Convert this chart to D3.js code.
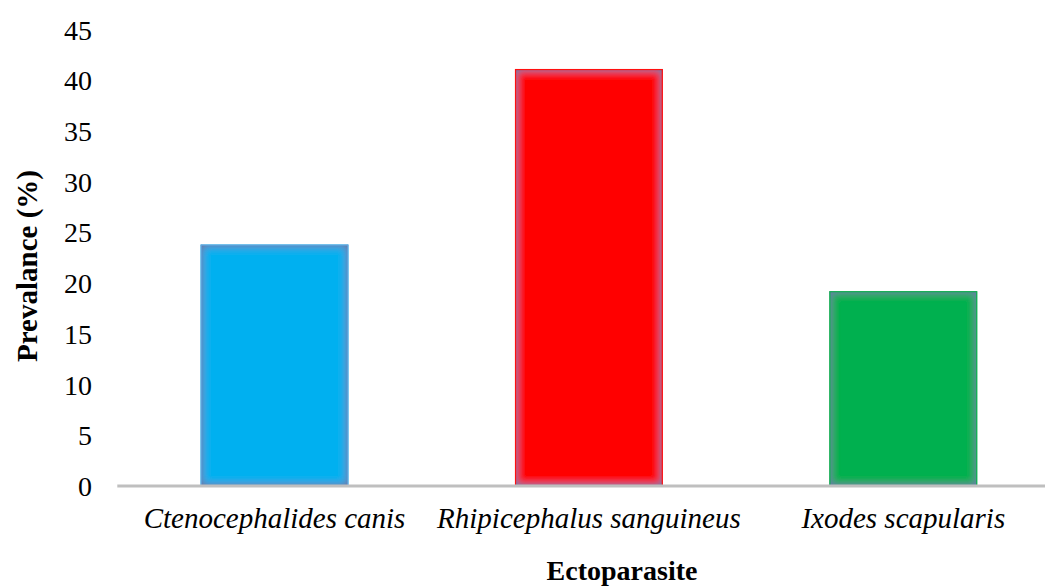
<!DOCTYPE html>
<html>
<head>
<meta charset="utf-8">
<script src="https://cdn.jsdelivr.net/npm/d3@7"></script>
<style>
  html, body { margin: 0; padding: 0; background: #fff; }
  svg { display: block; }
</style>
</head>
<body>
<script>
const categories = ["Ctenocephalides canis", "Rhipicephalus sanguineus", "Ixodes scapularis"];
const values = [23.8, 41.1, 19.2];
const barColors = ["#00b0f0", "#ff0000", "#00b050"];
const borderColors = ["#5fa8e0", "#ff1010", "#10b050"];
const yTicks = [0, 5, 10, 15, 20, 25, 30, 35, 40, 45];
const xTitle = "Ectoparasite";
const yTitle = "Prevalance (%)";

const FONT = "Liberation Serif";
const W = 1045, H = 586;
const svg = d3.select("body").append("svg").attr("width", W).attr("height", H);

const defs = svg.append("defs");
const f = defs.append("filter").attr("id", "innerglow")
  .attr("x", "-5%").attr("y", "-5%").attr("width", "110%").attr("height", "110%");
f.append("feGaussianBlur").attr("in", "SourceAlpha").attr("stdDeviation", 5).attr("result", "blur");
f.append("feComposite").attr("in", "SourceAlpha").attr("in2", "blur")
  .attr("operator", "arithmetic").attr("k1", 0).attr("k2", 1.5).attr("k3", -1.5).attr("k4", 0).attr("result", "edge");
f.append("feFlood").attr("flood-color", "#6878a8").attr("flood-opacity", 1).attr("result", "col");
f.append("feComposite").attr("in", "col").attr("in2", "edge").attr("operator", "in").attr("result", "glow");
const m = f.append("feMerge");
m.append("feMergeNode").attr("in", "SourceGraphic");
m.append("feMergeNode").attr("in", "glow");

const left = 117.3, right = 1060.5, y0 = 486, yTop = 29.5;

const x = d3.scaleBand().domain(categories).range([left, right])
  .paddingInner(0.53).paddingOuter(0.265);
const y = d3.scaleLinear().domain([0, 45]).range([y0, yTop]);

// y tick labels
const yAxis = d3.axisLeft(y).tickValues(yTicks).tickSize(0).tickPadding(0);
const gy = svg.append("g").attr("transform", "translate(92,0)").call(yAxis)
  .attr("font-family", FONT).attr("font-size", 28);
gy.select(".domain").remove();
gy.selectAll("text").attr("font-family", FONT).attr("font-size", 28)
  .attr("fill", "#000").attr("dy", "0.34em");

// bars
svg.append("g").selectAll("rect").data(values).enter().append("rect")
  .attr("x", (d, i) => x(categories[i]))
  .attr("y", d => y(d))
  .attr("width", x.bandwidth())
  .attr("height", d => y0 - y(d))
  .attr("fill", (d, i) => barColors[i])
  .attr("filter", "url(#innerglow)");
svg.append("g").selectAll("rect").data(values).enter().append("rect")
  .attr("x", (d, i) => x(categories[i]) + 0.5)
  .attr("y", d => y(d) + 0.5)
  .attr("width", x.bandwidth() - 1)
  .attr("height", d => y0 - y(d) - 0.5)
  .attr("fill", "none")
  .attr("stroke", (d, i) => borderColors[i])
  .attr("stroke-width", 1.2);

// x axis
const xAxis = d3.axisBottom(x).tickSize(0).tickPadding(0);
const gx = svg.append("g").attr("transform", `translate(0,${y0})`).call(xAxis)
  .attr("font-family", FONT).attr("font-size", 29);
gx.select(".domain").remove();
gx.selectAll("text").attr("dy", null).attr("y", 42)
  .attr("font-family", FONT).attr("font-size", 29)
  .attr("font-style", "italic").attr("fill", "#000");

svg.append("line").attr("x1", left).attr("x2", right).attr("y1", y0).attr("y2", y0)
  .attr("stroke", "#bfbfbf").attr("stroke-width", 3);

// titles
svg.append("text").attr("x", 622).attr("y", 580).attr("text-anchor", "middle")
  .attr("font-family", FONT).attr("font-size", 28).attr("font-weight", "bold").text(xTitle);
svg.append("text").attr("transform", "translate(37,266) rotate(-90)").attr("text-anchor", "middle")
  .attr("font-family", FONT).attr("font-size", 29).attr("font-weight", "bold").text(yTitle);
</script>
</body>
</html>
